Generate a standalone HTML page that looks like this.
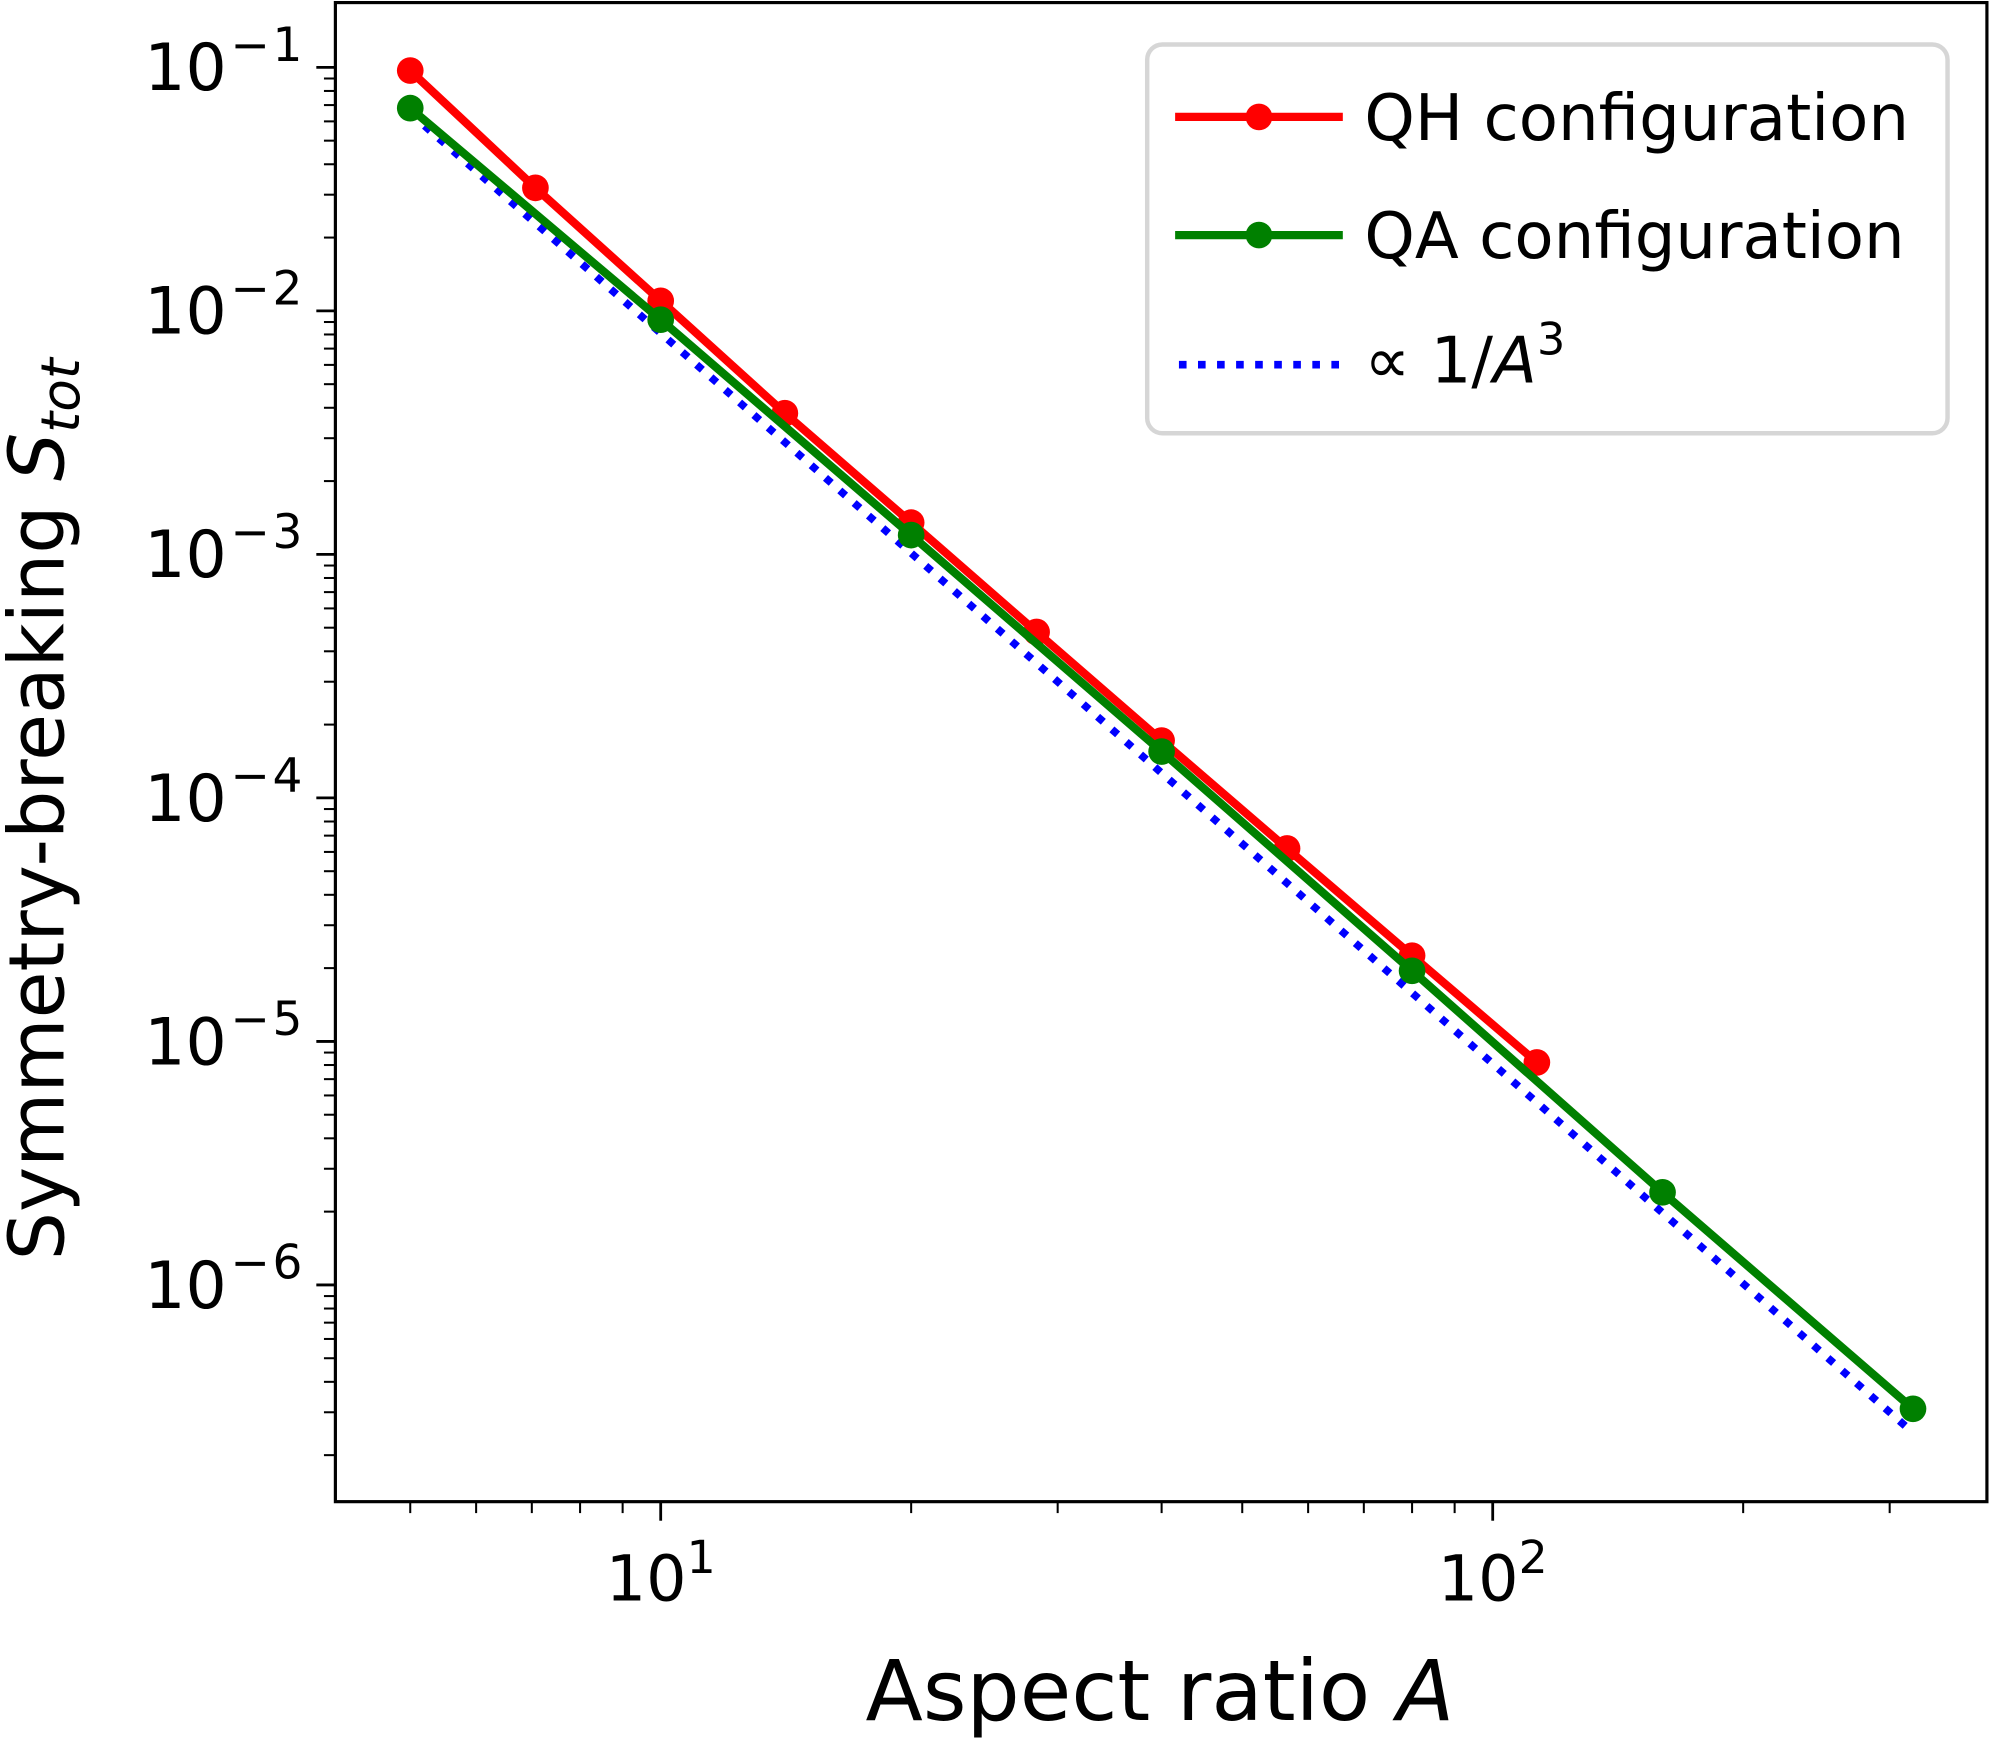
<!DOCTYPE html>
<html><head><meta charset="utf-8"><style>
html,body{margin:0;padding:0;background:#fff}
svg{display:block}
text{font-family:"DejaVu Sans","Liberation Sans",sans-serif;fill:#000}
</style></head><body>
<svg id="chart" width="1992" height="1738" viewBox="0 0 1568 1368" xmlns="http://www.w3.org/2000/svg">
<rect x="0" y="0" width="1568" height="1368" fill="#fff"/>
<g id="plot"></g>
</svg>
<script>
const qhA = [5, 7.07, 10, 14.1, 20, 28.3, 40, 56.6, 80, 113];
const qhS = [0.097, 0.032, 0.011, 0.0038, 0.00135, 0.00048, 0.000172, 6.2e-5, 2.25e-5, 8.2e-6];
const qaA = [5, 10, 20, 40, 80, 160, 320];
const qaS = [0.068, 0.0092, 0.0012, 0.000155, 1.95e-5, 2.4e-6, 3.1e-7];
const fitA = [5, 320];
const fitC = [8.1];
const xTickExp = [1, 2];
const yTickExp = [-1, -2, -3, -4, -5, -6];

const NS = "http://www.w3.org/2000/svg";
const L = 264, R = 1564, T = 2, B = 1182;
const xMin = 0.609, xMax = 2.594, yMin = -6.89, yMax = -0.734;
function X(a){ return L + (Math.log10(a) - xMin) / (xMax - xMin) * (R - L); }
function Y(s){ return B - (Math.log10(s) - yMin) / (yMax - yMin) * (B - T); }
const g = document.getElementById('plot');
function el(tag, attrs, parent){
  const e = document.createElementNS(NS, tag);
  for (const k in attrs) e.setAttribute(k, attrs[k]);
  (parent || g).appendChild(e);
  return e;
}

for (let d = 0; d <= 3; d++) for (let m = 2; m <= 9; m++) {
  const v = m * Math.pow(10, d);
  const x = X(v);
  if (x < L || x > R) continue;
  const t = el('line', {x1:x, x2:x, y1:B, y2:B+9, stroke:'#000', 'stroke-width':1.6});
  
  
}
for (let d = -7; d <= 0; d++) for (let m = 2; m <= 9; m++) {
  const v = m * Math.pow(10, d);
  const y = Y(v);
  if (y < T || y > B) continue;
  const t = el('line', {x1:L-9, x2:L, y1:y, y2:y, stroke:'#000', 'stroke-width':1.6});
  
  
}
xTickExp.forEach(e => {
  const x = X(Math.pow(10, e));
  const t = el('line', {x1:x, x2:x, y1:B, y2:B+15, stroke:'#000', 'stroke-width':2.2});
  
  
  const tx = el('text', {x:x, y:B+78, 'font-size':50, 'text-anchor':'middle'});
  
  
  tx.innerHTML = '10<tspan dy="-22" font-size="36">' + e + '</tspan>';
});
yTickExp.forEach(e => {
  const y = Y(Math.pow(10, e));
  const t = el('line', {x1:L-15, x2:L, y1:y, y2:y, stroke:'#000', 'stroke-width':2.2});
  
  
  const tx = el('text', {x:L-26, y:y+18, 'font-size':51, 'text-anchor':'end'});
  
  
  tx.innerHTML = '10<tspan dy="-23" dx="3" font-size="37">\u2212</tspan><tspan dx="2" font-size="37">' + Math.abs(e) + '</tspan>';
});

const fit = el('line', {x1:X(fitA[0]), y1:Y(fitC[0]/Math.pow(fitA[0],3)), x2:X(fitA[1]), y2:Y(fitC[0]/Math.pow(fitA[1],3)), stroke:'#0000ff', 'stroke-width':6, 'stroke-dasharray':'6 9'});



function series(A, S, color, name){
  const pl = el('polyline', {points: A.map((a,i)=>X(a)+','+Y(S[i])).join(' '), fill:'none', stroke:color, 'stroke-width':6.5, 'stroke-linejoin':'round'});
  
  
  A.forEach((a,i) => {
    const c = el('circle', {cx:X(a), cy:Y(S[i]), r:10.5, fill:color});
    
    
  });
}
series(qhA, qhS, '#ff0000', 'qh');
series(qaA, qaS, '#008000', 'qa');

const frame = el('rect', {x:L, y:T, width:R-L, height:B-T, fill:'none', stroke:'#000', 'stroke-width':2.5});



const lg = el('g', {});


el('rect', {x:903, y:35, width:630, height:306, rx:12, fill:'#fff', stroke:'#d6d6d6', 'stroke-width':3.5}, lg);
const items = [['#ff0000','QH configuration',92,'solid'],['#008000','QA configuration',185,'solid'],['#0000ff','',287,'dot']];
items.forEach((it, i) => {
  const li = el('g', {}, lg);
  
  
  if (it[3] === 'solid') {
    el('line', {x1:925, x2:1057, y1:it[2], y2:it[2], stroke:it[0], 'stroke-width':6.5}, li);
    el('circle', {cx:991, cy:it[2], r:10.5, fill:it[0]}, li);
    const t = el('text', {x:1074, y:it[2]+18, 'font-size':50.5}, li);
    t.textContent = it[1];
  } else {
    el('line', {x1:928, x2:1057, y1:it[2], y2:it[2], stroke:it[0], 'stroke-width':6, 'stroke-dasharray':'6 9'}, li);
    const t = el('text', {x:1074, y:it[2]+14, 'font-size':50.5}, li);
    t.innerHTML = '\u221D 1/<tspan font-style="italic">A</tspan><tspan dy="-22" font-size="35">3</tspan>';
  }
});

const xl = el('text', {x:913, y:1354, 'font-size':66, 'text-anchor':'middle'});


xl.innerHTML = 'Aspect ratio <tspan font-style="italic">A</tspan>';
const yl = el('text', {x:0, y:0, 'font-size':60, 'text-anchor':'middle', transform:'translate(50,637) rotate(-90)'});


yl.innerHTML = 'Symmetry-breaking <tspan font-style="italic">S</tspan><tspan font-style="italic" font-size="42" dy="12">tot</tspan>';
</script>
</body></html>
